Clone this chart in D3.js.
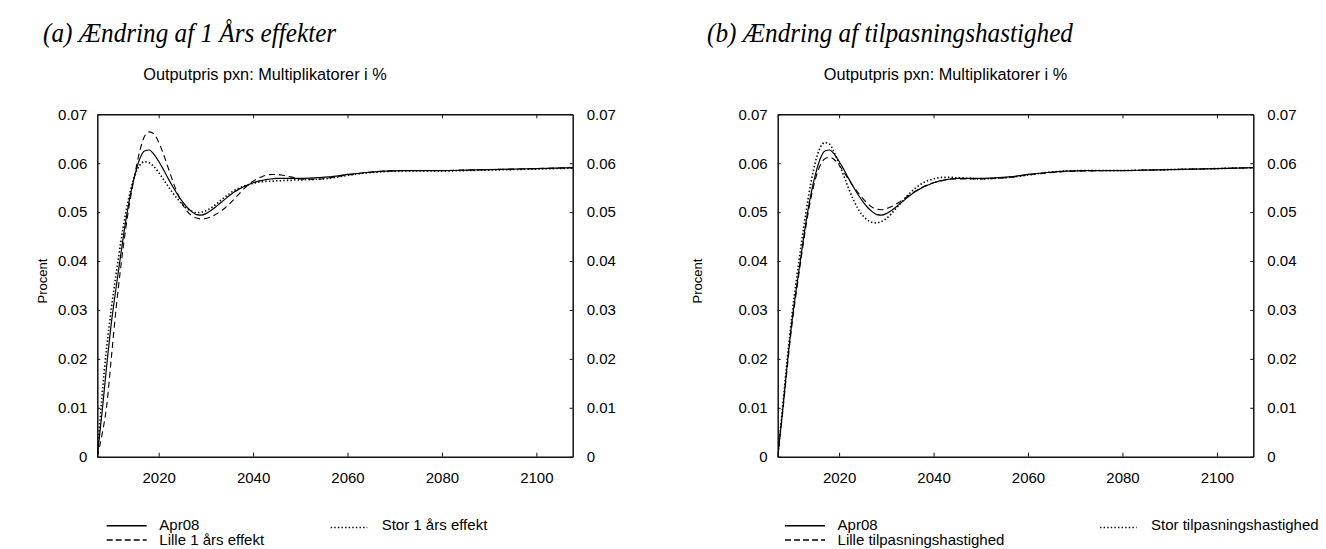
<!DOCTYPE html>
<html>
<head>
<meta charset="utf-8">
<script src="https://cdn.jsdelivr.net/npm/d3@7"></script>
<style>
  body { margin: 0; background: #fff; }
  text { font-family: "Liberation Sans", Arial, sans-serif; fill: #000; }
  .head { font-family: "Liberation Serif", "Times New Roman", serif; font-style: italic; }
</style>
</head>
<body>
<div id="chart"></div>
<script>
////////////////////////////////////////////////////////////////////////
// Data

// annual points up to 2050, sparser afterwards where the curves are flat
let years = d3.range(2007, 2051).concat([2053, 2056, 2060, 2064, 2068, 2072, 2076, 2080, 2085, 2090, 2095, 2100, 2104, 2108]);

let apr08 = [0, 0.0090, 0.0187, 0.0275, 0.0347, 0.0415, 0.0480, 0.0535, 0.0577, 0.0609,
  0.0625, 0.0627, 0.0618, 0.0604, 0.0587, 0.0569, 0.0552, 0.0536, 0.0522, 0.0510,
  0.0501, 0.0495, 0.0494, 0.0497, 0.0503, 0.0510, 0.0518, 0.0526, 0.0534, 0.0541,
  0.0547, 0.0552, 0.0556, 0.0560, 0.0563, 0.0565, 0.0567, 0.0568, 0.0569, 0.0569,
  0.0569, 0.0569, 0.0569, 0.0569,
  0.0570, 0.0572, 0.0577, 0.0581, 0.0584, 0.0585, 0.0585, 0.0585, 0.0586, 0.0587, 0.0588, 0.0589, 0.0590, 0.0591];

let lille1 = [0, 0.0045, 0.0105, 0.0205, 0.0305, 0.0390, 0.0465, 0.0527, 0.0580, 0.0625,
  0.0655, 0.0664, 0.0660, 0.0643, 0.0619, 0.0591, 0.0563, 0.0538, 0.0517, 0.0502,
  0.0493, 0.0488, 0.0486, 0.0487, 0.0490, 0.0495, 0.0501, 0.0508, 0.0517, 0.0527,
  0.0537, 0.0547, 0.0556, 0.0563, 0.0569, 0.0573, 0.0576, 0.0577, 0.0577, 0.0576,
  0.0574, 0.0572, 0.0570, 0.0568,
  0.0567, 0.0570, 0.0576, 0.0581, 0.0584, 0.0585, 0.0585, 0.0585, 0.0586, 0.0587, 0.0588, 0.0589, 0.0590, 0.0591];

let stor1 = [0, 0.0125, 0.0225, 0.0305, 0.0375, 0.0440, 0.0497, 0.0543, 0.0576, 0.0596,
  0.0603, 0.0601, 0.0593, 0.0581, 0.0567, 0.0553, 0.0539, 0.0527, 0.0516, 0.0507,
  0.0502, 0.0499, 0.0500, 0.0503, 0.0508, 0.0515, 0.0523, 0.0531, 0.0538, 0.0544,
  0.0549, 0.0553, 0.0556, 0.0559, 0.0561, 0.0562, 0.0563, 0.0563, 0.0564, 0.0564,
  0.0565, 0.0565, 0.0566, 0.0566,
  0.0567, 0.0569, 0.0575, 0.0580, 0.0583, 0.0584, 0.0584, 0.0584, 0.0585, 0.0586, 0.0587, 0.0588, 0.0589, 0.0590];

let lilleTilp = [0, 0.0085, 0.0180, 0.0268, 0.0340, 0.0408, 0.0472, 0.0527, 0.0568, 0.0596,
  0.0609, 0.0612, 0.0607, 0.0596, 0.0582, 0.0567, 0.0553, 0.0540, 0.0528, 0.0518,
  0.0510, 0.0506, 0.0505, 0.0507, 0.0511, 0.0516, 0.0522, 0.0529, 0.0536, 0.0542,
  0.0548, 0.0553, 0.0557, 0.0560, 0.0563, 0.0565, 0.0567, 0.0568, 0.0568, 0.0568,
  0.0568, 0.0568, 0.0568, 0.0568,
  0.0569, 0.0571, 0.0576, 0.0580, 0.0583, 0.0584, 0.0585, 0.0585, 0.0586, 0.0587, 0.0588, 0.0589, 0.0590, 0.0591];

let storTilp = [0, 0.0098, 0.0197, 0.0288, 0.0365, 0.0435, 0.0500, 0.0558, 0.0603, 0.0632,
  0.0642, 0.0639, 0.0621, 0.0599, 0.0574, 0.0549, 0.0526, 0.0507, 0.0493, 0.0484,
  0.0479, 0.0478, 0.0481, 0.0487, 0.0496, 0.0507, 0.0518, 0.0529, 0.0539, 0.0548,
  0.0555, 0.0561, 0.0565, 0.0568, 0.0570, 0.0571, 0.0571, 0.0571, 0.0570, 0.0570,
  0.0569, 0.0569, 0.0568, 0.0568,
  0.0569, 0.0571, 0.0576, 0.0581, 0.0584, 0.0585, 0.0585, 0.0585, 0.0586, 0.0587, 0.0588, 0.0589, 0.0590, 0.0591];

let xTicks = [2020, 2040, 2060, 2080, 2100];
let yTicks = [0, 0.01, 0.02, 0.03, 0.04, 0.05, 0.06, 0.07];
let yTickLabels = ["0", "0.01", "0.02", "0.03", "0.04", "0.05", "0.06", "0.07"];

let chartTitle = "Outputpris pxn: Multiplikatorer i %";
let yLabel = "Procent";

////////////////////////////////////////////////////////////////////////
// Layout

let W = 1326, H = 549;
let plotTop = 114.3, plotBottom = 456.7;

let dashStyle = {solid: null, dashed: "6,4", dotted: "1.4,2.2"};
let widthStyle = {solid: 1.2, dashed: 1.1, dotted: 1.6};

let panels = [
  {heading: "(a) Ændring af 1 Års effekter", hx: 43, ylx: 43,
   x0: 97.3, x1: 572.7,
   series: [{name: "Apr08", vals: apr08, style: "solid"},
            {name: "Lille 1 års effekt", vals: lille1, style: "dashed"},
            {name: "Stor 1 års effekt", vals: stor1, style: "dotted"}],
   legX: 106.7, legX2: 330.7},
  {heading: "(b) Ændring af tilpasningshastighed", hx: 707, ylx: 698,
   x0: 777.7, x1: 1253.3,
   series: [{name: "Apr08", vals: apr08, style: "solid"},
            {name: "Lille tilpasningshastighed", vals: lilleTilp, style: "dashed"},
            {name: "Stor tilpasningshastighed", vals: storTilp, style: "dotted"}],
   legX: 785, legX2: 1100}
];

let svg = d3.select("#chart").append("svg")
  .attr("width", W).attr("height", H);

panels.forEach((p, pi) => drawPanel(p, pi));

function drawPanel(p, pi) {
  let g = svg.append("g");

  let x = d3.scaleLinear().domain([2007, 2107.7]).range([p.x0, p.x1]);
  let y = d3.scaleLinear().domain([0, 0.07]).range([plotBottom, plotTop]);

  // heading (a narrow, tall italic serif) and title
  g.append("text").attr("class", "head")
    .attr("transform", "translate(" + p.hx + ",42) scale(0.9,1)")
    .style("font-size", "28px")
    .text(p.heading);

  g.append("text")
    .attr("x", (p.x0 + p.x1) / 2 - 70).attr("y", 80)
    .attr("text-anchor", "middle")
    .style("font-size", "16.3px")
    .text(chartTitle);

  g.append("text")
    .attr("transform", "translate(" + (p.ylx + 4) + ",281) rotate(-90)")
    .attr("text-anchor", "middle")
    .style("font-size", "13px")
    .text(yLabel);

  // axes, ticks pointing inward
  let fmt = (d, i) => yTickLabels[i];
  g.append("g").attr("transform", "translate(0," + plotBottom + ")")
    .call(d3.axisBottom(x).tickValues(xTicks).tickFormat(d3.format("d"))
      .tickSizeInner(-4).tickSizeOuter(0).tickPadding(16));
  g.append("g").attr("transform", "translate(0," + plotTop + ")")
    .call(d3.axisTop(x).tickValues(xTicks).tickFormat("")
      .tickSizeInner(-4).tickSizeOuter(0));
  g.append("g").attr("transform", "translate(" + p.x0 + ",0)")
    .call(d3.axisLeft(y).tickValues(yTicks).tickFormat(fmt)
      .tickSizeInner(-3).tickSizeOuter(0).tickPadding(10));
  g.append("g").attr("transform", "translate(" + p.x1 + ",0)")
    .call(d3.axisRight(y).tickValues(yTicks).tickFormat(fmt)
      .tickSizeInner(-3).tickSizeOuter(0).tickPadding(14));

  g.selectAll(".domain").attr("stroke", "#111").attr("stroke-width", 1.5);
  g.selectAll(".tick line").attr("stroke", "#111");
  g.selectAll(".tick text").style("font-size", "15px")
    .style("font-family", "'Liberation Sans', Arial, sans-serif").attr("fill", "#000");

  // clip for the curves
  let clipId = "clip" + pi;
  svg.append("clipPath").attr("id", clipId)
    .append("rect").attr("x", p.x0).attr("y", plotTop)
    .attr("width", p.x1 - p.x0).attr("height", plotBottom - plotTop);

  let line = d3.line()
    .x((d, i) => x(years[i]))
    .y(d => y(d))
    .curve(d3.curveMonotoneX);

  g.append("g").attr("clip-path", "url(#" + clipId + ")")
    .selectAll("path.series")
    .data(p.series)
    .enter().append("path")
    .attr("class", "series")
    .attr("d", d => line(d.vals))
    .attr("fill", "none")
    .attr("stroke", "#000")
    .attr("stroke-width", d => widthStyle[d.style])
    .attr("stroke-dasharray", d => dashStyle[d.style]);

  // legend: two rows on the left, one entry in a second column
  let leg = [
    {s: p.series[0], lx: p.legX, ly: 525.7, ty: 529.5},
    {s: p.series[1], lx: p.legX, ly: 540, ty: 544.5},
    {s: p.series[2], lx: p.legX2, ly: 527.5, ty: 529.5}
  ];
  leg.forEach(l => {
    let dotted = l.s.style === "dotted";
    let len = dotted ? 36.6 : 40;
    g.append("line")
      .attr("x1", l.lx).attr("x2", l.lx + len)
      .attr("y1", l.ly).attr("y2", l.ly)
      .attr("stroke", "#000")
      .attr("stroke-width", 1.4)
      .attr("stroke-dasharray", l.s.style === "dashed" ? "6,3" : dashStyle[l.s.style]);
    g.append("text")
      .attr("x", l.lx + len + (dotted ? 14.4 : 12.6))
      .attr("y", l.ty)
      .style("font-size", "15px")
      .text(l.s.name);
  });
}
</script>
</body>
</html>
